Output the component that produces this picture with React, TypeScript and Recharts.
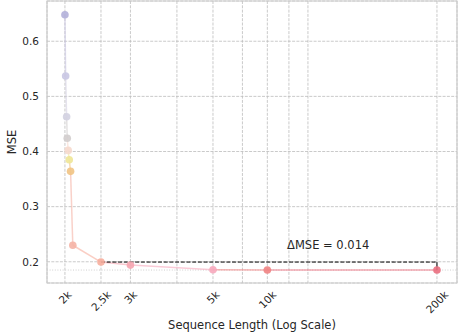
import React from "react";
import {
  ComposedChart,
  Line,
  XAxis,
  YAxis,
  CartesianGrid,
  ReferenceLine,
  ReferenceArea,
  ReferenceDot,
} from "recharts";

// plotted x position of each run (log axis); the last two are drawn compressed
const xPos = [2000, 2009, 2021, 2029, 2041, 2054, 2071, 2100, 2500, 3000, 5000, 7000, 20000];
const mse = [0.648, 0.537, 0.463, 0.424, 0.402, 0.385, 0.364, 0.23, 0.1995, 0.194, 0.1856, 0.185, 0.185];
const pointColors = [
  "#b3b0d9", "#c9c7e3", "#d3d1e1", "#d1cdcd", "#f6d9cd", "#eee596", "#f1c383",
  "#f5b3a5", "#f7ae9d", "#f6a5b0", "#f7a8bc", "#f08383", "#ea6f7f",
];

const majorTicks = [2000, 2500, 3000, 5000, 7000, 20000];
const majorLabels = ["2k", "2.5k", "3k", "5k", "10k", "200k"];
const minorTicks = [4000, 6000, 8000, 9000];
const yTicks = [0.2, 0.3, 0.4, 0.5, 0.6];

const xDomain = [1790, 22640];
const yDomain = [0.1615, 0.673];

const baseline = 0.1995; // MSE at 2.5k
const finalMse = 0.185;
const deltaText = "ΔMSE = 0.014";

const font = "DejaVu Sans";
const textColor = "#262626";
const tickSize = 10.5;
const labelSize = 11.5;

const points = xPos.map((x, i) => ({ x, y: mse[i] }));
const segments = points.slice(1).map((p, i) => [points[i], p]);
const allTicks = [...majorTicks, ...minorTicks].sort((a, b) => a - b);

const charW: Record<string, number> = { ".": 0.318, k: 0.579 };
const textWidth = (s: string) => s.split("").reduce((w, c) => w + (charW[c] ?? 0.636) * tickSize, 0);

const XTick = (props: any) => {
  const { x, y, payload } = props;
  const idx = majorTicks.indexOf(payload.value);
  if (idx < 0) return <g />;
  const label = majorLabels[idx];
  const side = (textWidth(label) + 0.73 * tickSize) * 0.707;
  const cy = y + 5 + side / 2;
  return (
    <text
      x={x}
      y={cy}
      textAnchor="middle"
      dominantBaseline="central"
      transform={`rotate(-45 ${x} ${cy})`}
      fontSize={tickSize}
      fontFamily={font}
      fill={textColor}
    >
      {label}
    </text>
  );
};

const App = () => {
  return (
    <div style={{ position: "absolute", left: 0, top: 0 }}>
      <ComposedChart width={458} height={333} data={points} margin={{ top: 1, right: 1, left: 0, bottom: 0 }}>
        <CartesianGrid stroke="#bdbdbd" strokeDasharray="3 1.3" strokeWidth={0.8} />
        <XAxis
          dataKey="x"
          type="number"
          scale="log"
          domain={xDomain}
          allowDataOverflow
          ticks={allTicks}
          interval={0}
          axisLine={false}
          tickLine={false}
          tickSize={0}
          height={50}
          tick={<XTick />}
          label={({ viewBox }: any) => (
            <text
              x={viewBox.x + viewBox.width / 2}
              y={viewBox.y + 46}
              textAnchor="middle"
              fontSize={labelSize}
              fontFamily={font}
              fill={textColor}
            >
              Sequence Length (Log Scale)
            </text>
          )}
        />
        <YAxis
          dataKey="y"
          type="number"
          domain={yDomain}
          allowDataOverflow
          ticks={yTicks}
          width={47}
          axisLine={false}
          tickLine={false}
          tickSize={0}
          tickMargin={8}
          tickFormatter={(v: number) => v.toFixed(1)}
          tick={{ fontSize: tickSize, fontFamily: font, fill: textColor }}
          label={({ viewBox }: any) => {
            const cx = 12;
            const cy = viewBox.y + viewBox.height / 2;
            return (
              <text
                x={cx}
                y={cy}
                textAnchor="middle"
                dominantBaseline="central"
                transform={`rotate(-90 ${cx} ${cy})`}
                fontSize={labelSize}
                fontFamily={font}
                fill={textColor}
              >
                MSE
              </text>
            );
          }}
        />
        <ReferenceArea
          x1={xDomain[0]}
          x2={xDomain[1]}
          y1={yDomain[0]}
          y2={yDomain[1]}
          fill="none"
          fillOpacity={0}
          stroke="#cccccc"
          strokeWidth={1.2}
        />
        <ReferenceLine y={finalMse} stroke="#cfcfcf" strokeDasharray="1 1.6" strokeWidth={1} />
        {segments.map((seg, i) => (
          <Line
            key={"seg" + i}
            data={seg}
            dataKey="y"
            stroke={pointColors[i + 1]}
            strokeOpacity={0.6}
            strokeWidth={1.5}
            dot={false}
            activeDot={false}
            isAnimationActive={false}
          />
        ))}
        <ReferenceLine
          segment={[
            { x: majorTicks[1], y: baseline },
            { x: majorTicks[5], y: baseline },
          ]}
          stroke="#000"
          strokeDasharray="4 1.7"
          strokeWidth={1}
        />
        <ReferenceLine
          segment={[
            { x: majorTicks[5], y: baseline },
            { x: majorTicks[5], y: finalMse },
          ]}
          stroke="#000"
          strokeWidth={1}
        />
        <Line
          dataKey="y"
          stroke="none"
          isAnimationActive={false}
          activeDot={false}
          dot={(p: any) => (
            <circle key={"pt" + p.index} cx={p.cx} cy={p.cy} r={3.8} fill={pointColors[p.index]} fillOpacity={0.9} />
          )}
        />
        <ReferenceDot
          x={10200}
          y={0.23}
          r={0}
          stroke="none"
          fill="none"
          label={({ viewBox }: any) => (
            <text
              x={viewBox.x + viewBox.width / 2}
              y={viewBox.y + viewBox.height / 2 + 4}
              textAnchor="middle"
              fontSize={labelSize}
              fontFamily={font}
              fill={textColor}
            >
              {deltaText}
            </text>
          )}
        />
      </ComposedChart>
    </div>
  );
};

export default App;
